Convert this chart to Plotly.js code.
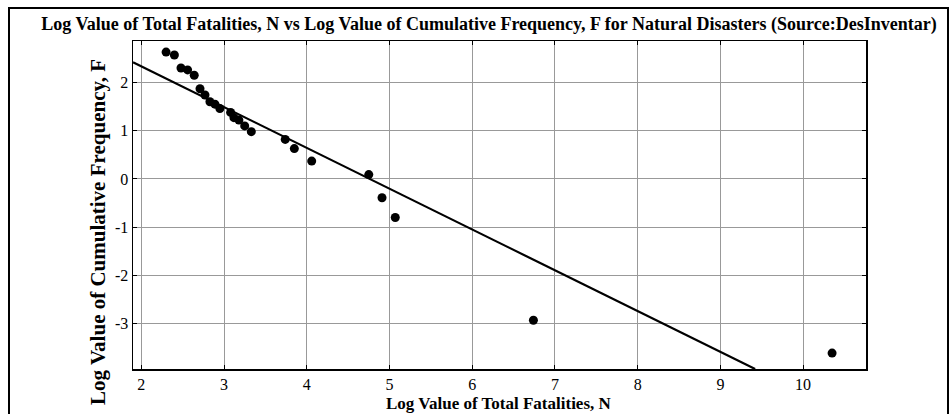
<!DOCTYPE html>
<html>
<head>
<meta charset="utf-8">
<script src="https://cdn.plot.ly/plotly-3.0.1.min.js"></script>
<style>html,body{margin:0;padding:0;background:#fff;}#chart{width:949px;height:414px;}</style>
</head>
<body>
<div id="chart"></div>
<script>
// Observed points: log total fatalities N vs log cumulative frequency F
const logN = [2.30, 2.40, 2.48, 2.56, 2.64, 2.71, 2.77, 2.83, 2.89, 2.95, 3.08, 3.12, 3.18, 3.25, 3.33, 3.74, 3.85, 4.06, 4.75, 4.91, 5.07, 6.74, 10.35];
const logF = [2.63, 2.57, 2.30, 2.26, 2.15, 1.87, 1.74, 1.60, 1.55, 1.46, 1.38, 1.27, 1.22, 1.10, 0.98, 0.82, 0.63, 0.37, 0.09, -0.39, -0.80, -2.93, -3.61];
// Fitted line endpoints
const fitN = [1.90, 9.42];
const fitF = [2.42, -3.94];
const xTicks = [2, 3, 4, 5, 6, 7, 8, 9, 10];
const yTicks = [-3, -2, -1, 0, 1, 2];

const serif = "Liberation Serif";
const W = 949, H = 414, L = 133, R = 83, T = 41, B = 45;
const pw = W - L - R, ph = H - T - B;
function px(xp){ return (xp - L) / pw; }
function py(yp){ return (H - B - yp) / ph; }

const data = [
  {x: fitN, y: fitF, mode: 'lines', line: {color: '#000', width: 2.2}, hoverinfo: 'skip', showlegend: false, cliponaxis: true},
  {x: logN, y: logF, mode: 'markers', marker: {color: '#000', size: 9, symbol: 'circle'}, showlegend: false}
];

const axisCommon = {
  showline: true, linecolor: '#000', linewidth: 1.5, mirror: 'ticks',
  ticks: 'inside', ticklen: 4, tickcolor: '#000', tickwidth: 1,
  showgrid: true, gridcolor: '#999', gridwidth: 1, zeroline: false,
  tickfont: {family: serif, size: 16, color: '#000'}
};

const layout = {
  width: W, height: H,
  margin: {l: L, r: R, t: T, b: B},
  paper_bgcolor: '#fff', plot_bgcolor: '#fff',
  font: {family: serif, color: '#000'},
  title: {text: '<b>Log Value of Total Fatalities, N vs Log Value of Cumulative Frequency, F for Natural Disasters (Source:DesInventar)</b>',
          font: {family: serif, size: 18, color: '#000'},
          x: 489 / W, xanchor: 'center', xref: 'container', y: 1 - 24 / H, yanchor: 'middle', yref: 'container'},
  xaxis: Object.assign({}, axisCommon, {range: [1.90, 10.76], tickvals: xTicks, ticktext: xTicks.map(String)}),
  yaxis: Object.assign({}, axisCommon, {range: [-3.94, 2.86], tickvals: yTicks, ticktext: yTicks.map(String)}),
  annotations: [
    {text: '<b>Log Value of Total Fatalities, N</b>', xref: 'paper', yref: 'paper', x: px(499), y: py(403),
     xanchor: 'center', yanchor: 'middle', showarrow: false, font: {family: serif, size: 17, color: '#000'}},
    {text: '<b>Log Value of Cumulative Frequency, F</b>', xref: 'paper', yref: 'paper', x: px(98), y: py(232),
     xanchor: 'center', yanchor: 'middle', textangle: -90, showarrow: false, font: {family: serif, size: 21, color: '#000'}}
  ],
  shapes: [
    {type: 'rect', xref: 'paper', yref: 'paper', x0: px(9), x1: px(948), y0: py(430), y1: py(8),
     line: {color: '#000', width: 2}, fillcolor: 'rgba(0,0,0,0)', layer: 'above'}
  ]
};

Plotly.newPlot('chart', data, layout, {displayModeBar: false, staticPlot: true});
</script>
</body>
</html>
